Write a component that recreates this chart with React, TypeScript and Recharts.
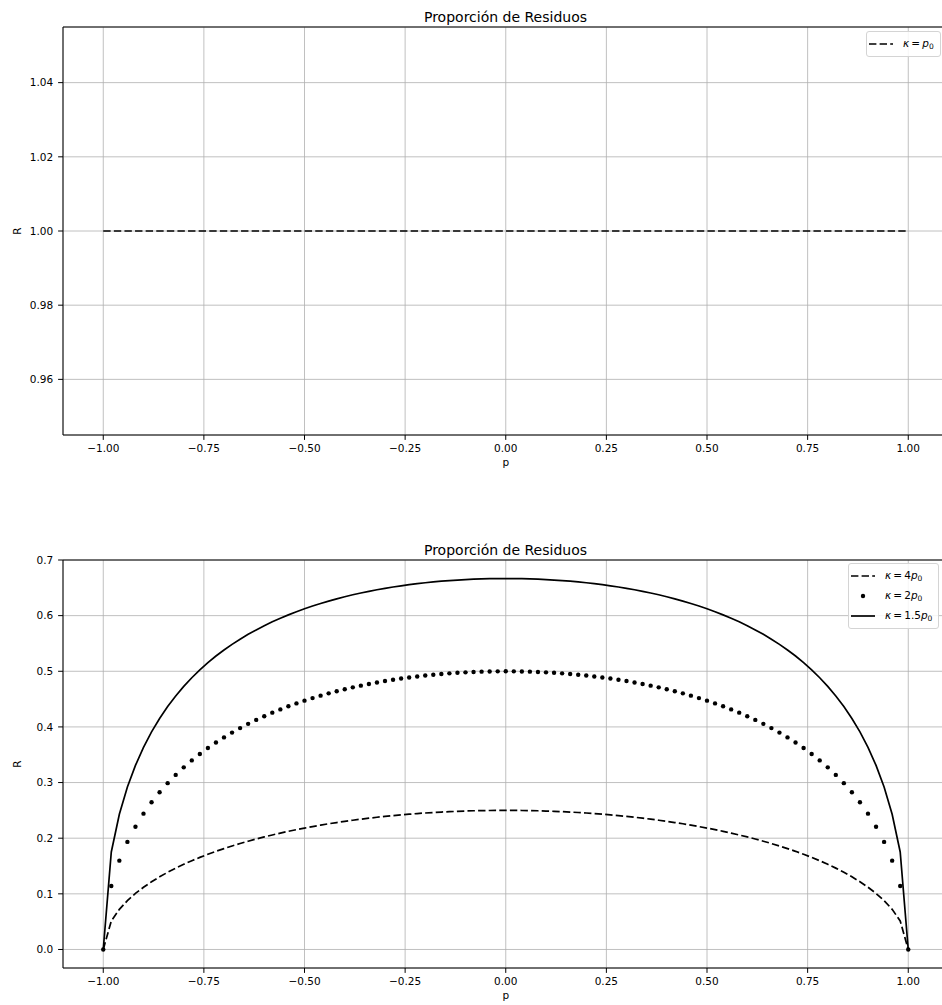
import React from 'react';
import { LineChart, Line, XAxis, YAxis, CartesianGrid, ReferenceLine, Legend } from 'recharts';

const pValues = [
  -1.0, -0.98, -0.96, -0.94, -0.92, -0.9, -0.88, -0.86, -0.84, -0.82, -0.8, -0.78, -0.76, -0.74, -0.72, -0.7,
  -0.68, -0.66, -0.64, -0.62, -0.6, -0.58, -0.56, -0.54, -0.52, -0.5, -0.48, -0.46, -0.44, -0.42, -0.4, -0.38,
  -0.36, -0.34, -0.32, -0.3, -0.28, -0.26, -0.24, -0.22, -0.2, -0.18, -0.16, -0.14, -0.12, -0.1, -0.08, -0.06,
  -0.04, -0.02, 0.0, 0.02, 0.04, 0.06, 0.08, 0.1, 0.12, 0.14, 0.16, 0.18, 0.2, 0.22, 0.24, 0.26, 0.28, 0.3,
  0.32, 0.34, 0.36, 0.38, 0.4, 0.42, 0.44, 0.46, 0.48, 0.5, 0.52, 0.54, 0.56, 0.58, 0.6, 0.62, 0.64, 0.66,
  0.68, 0.7, 0.72, 0.74, 0.76, 0.78, 0.8, 0.82, 0.84, 0.86, 0.88, 0.9, 0.92, 0.94, 0.96, 0.98, 1.0,
];

const kappa4 = [
  0, 0.0513, 0.0721, 0.0878, 0.1007, 0.1118, 0.1217, 0.1306, 0.1387, 0.1462, 0.1531, 0.1595, 0.1655, 0.1711,
  0.1764, 0.1813, 0.186, 0.1904, 0.1946, 0.1986, 0.2023, 0.2058, 0.2092, 0.2124, 0.2154, 0.2182, 0.2209, 0.2235,
  0.2259, 0.2281, 0.2303, 0.2323, 0.2342, 0.236, 0.2376, 0.2392, 0.2406, 0.2419, 0.2431, 0.2443, 0.2453, 0.2462,
  0.247, 0.2477, 0.2483, 0.2488, 0.2493, 0.2496, 0.2498, 0.25, 0.25,
  0.25, 0.2498, 0.2496, 0.2493, 0.2488, 0.2483, 0.2477, 0.247, 0.2462, 0.2453, 0.2443, 0.2431, 0.2419, 0.2406,
  0.2392, 0.2376, 0.236, 0.2342, 0.2323, 0.2303, 0.2281, 0.2259, 0.2235, 0.2209, 0.2182, 0.2154, 0.2124, 0.2092,
  0.2058, 0.2023, 0.1986, 0.1946, 0.1904, 0.186, 0.1813, 0.1764, 0.1711, 0.1655, 0.1595, 0.1531, 0.1462, 0.1387,
  0.1306, 0.1217, 0.1118, 0.1007, 0.0878, 0.0721, 0.0513, 0,
];

const kappa2 = [
  0, 0.1141, 0.1596, 0.1933, 0.2207, 0.2441, 0.2645, 0.2826, 0.2989, 0.3138, 0.3273, 0.3398, 0.3513, 0.362,
  0.3719, 0.3812, 0.3898, 0.3979, 0.4055, 0.4126, 0.4193, 0.4256, 0.4315, 0.4371, 0.4423, 0.4472, 0.4518, 0.4562,
  0.4603, 0.4641, 0.4677, 0.4711, 0.4742, 0.4772, 0.4799, 0.4824, 0.4848, 0.4869, 0.4889, 0.4907, 0.4924, 0.4938,
  0.4952, 0.4963, 0.4973, 0.4981, 0.4988, 0.4993, 0.4997, 0.4999, 0.5,
  0.4999, 0.4997, 0.4993, 0.4988, 0.4981, 0.4973, 0.4963, 0.4952, 0.4938, 0.4924, 0.4907, 0.4889, 0.4869, 0.4848,
  0.4824, 0.4799, 0.4772, 0.4742, 0.4711, 0.4677, 0.4641, 0.4603, 0.4562, 0.4518, 0.4472, 0.4423, 0.4371, 0.4315,
  0.4256, 0.4193, 0.4126, 0.4055, 0.3979, 0.3898, 0.3812, 0.3719, 0.362, 0.3513, 0.3398, 0.3273, 0.3138, 0.2989,
  0.2826, 0.2645, 0.2441, 0.2207, 0.1933, 0.1596, 0.1141, 0,
];

const kappa15 = [
  0, 0.1752, 0.2429, 0.2919, 0.3308, 0.3632, 0.391, 0.4152, 0.4366, 0.4557, 0.4729, 0.4884, 0.5026, 0.5155,
  0.5274, 0.5383, 0.5484, 0.5577, 0.5664, 0.5744, 0.5819, 0.5889, 0.5954, 0.6014, 0.6071, 0.6124, 0.6173, 0.6219,
  0.6262, 0.6302, 0.634, 0.6375, 0.6407, 0.6437, 0.6465, 0.6491, 0.6515, 0.6536, 0.6556, 0.6575, 0.6591, 0.6606,
  0.6619, 0.663, 0.664, 0.6648, 0.6655, 0.666, 0.6664, 0.6666, 0.6667,
  0.6666, 0.6664, 0.666, 0.6655, 0.6648, 0.664, 0.663, 0.6619, 0.6606, 0.6591, 0.6575, 0.6556, 0.6536, 0.6515,
  0.6491, 0.6465, 0.6437, 0.6407, 0.6375, 0.634, 0.6302, 0.6262, 0.6219, 0.6173, 0.6124, 0.6071, 0.6014, 0.5954,
  0.5889, 0.5819, 0.5744, 0.5664, 0.5577, 0.5484, 0.5383, 0.5274, 0.5155, 0.5026, 0.4884, 0.4729, 0.4557, 0.4366,
  0.4152, 0.391, 0.3632, 0.3308, 0.2919, 0.2429, 0.1752, 0,
];

const topP = [-1.0, 1.0];
const kappaP0 = [1.0, 1.0];

const xTicks = [-1.0, -0.75, -0.5, -0.25, 0.0, 0.25, 0.5, 0.75, 1.0];
const yTicksTop = [0.96, 0.98, 1.0, 1.02, 1.04];
const yTicksBottom = [0.0, 0.1, 0.2, 0.3, 0.4, 0.5, 0.6, 0.7];

const titleText = 'Proporción de Residuos';

const topData = topP.map((p, i) => ({ p, r: kappaP0[i] }));
const bottomData = pValues.map((p, i) => ({ p, k4: kappa4[i], k2: kappa2[i], k15: kappa15[i] }));

const FONT = '"DejaVu Sans", Verdana, sans-serif';
const TICK_FONT = 10.5;
const GRID = '#b0b0b0';
const DASH = '7.4 3.2';
const LW = 1.7;

const fmt = (d: number) => (v: number) => {
  const s = Math.abs(v).toFixed(d);
  return v < -1e-9 ? '\u2212' + s : s;
};

const tickStyle = { fontSize: TICK_FONT, fill: '#000', fontFamily: FONT };

const YLabel = (props: any) => {
  const vb = props.viewBox || { x: 0, y: 0, width: 0, height: 0 };
  const cy = vb.y + vb.height / 2;
  const cx = 17;
  return (
    <text
      x={cx}
      y={cy}
      transform={`rotate(-90 ${cx} ${cy})`}
      textAnchor="middle"
      dominantBaseline="central"
      fontSize={TICK_FONT}
      fontFamily={FONT}
      fill="#000"
    >
      R
    </text>
  );
};

type Item = { label: string; kind: 'dash' | 'dot' | 'solid' };

const Kappa = ({ label }: { label: string }) => (
  <span style={{ whiteSpace: 'nowrap' }}>
    <span style={{ fontStyle: 'italic' }}>κ</span>
    <span>{'\u2009=\u2009'}</span>
    <span>{label}</span>
    <span style={{ fontStyle: 'italic' }}>p</span>
    <span style={{ fontSize: '72%', position: 'relative', top: 2 }}>0</span>
  </span>
);

const LegendBox = ({ items }: { items: Item[] }) => (
  <div
    style={{
      border: '1px solid #d4d4d4',
      borderRadius: 3,
      background: 'rgba(255,255,255,0.85)',
      padding: '2px 6px 2px 2px',
      fontFamily: FONT,
      fontSize: TICK_FONT,
      color: '#000',
      boxSizing: 'border-box',
    }}
  >
    {items.map((it, i) => (
      <div key={i} style={{ display: 'flex', alignItems: 'center', height: 20 }}>
        <svg width={24} height={20} style={{ display: 'block' }}>
          {it.kind === 'dot' ? (
            <circle cx={12} cy={10} r={2.2} fill="#000" />
          ) : (
            <line
              x1={0}
              y1={10}
              x2={24}
              y2={10}
              stroke="#000"
              strokeWidth={LW}
              strokeDasharray={it.kind === 'dash' ? DASH : undefined}
            />
          )}
        </svg>
        <div style={{ marginLeft: 10, lineHeight: '20px' }}>
          <Kappa label={it.label} />
        </div>
      </div>
    ))}
  </div>
);

const Title = ({ top }: { top: number }) => (
  <div
    style={{
      position: 'absolute',
      left: 0,
      width: 1011,
      top,
      textAlign: 'center',
      fontFamily: FONT,
      fontSize: 14,
      lineHeight: '16px',
      color: '#000',
    }}
  >
    {titleText}
  </div>
);

const CHART_W = 960;
const CHART_H = 470;
const MARGIN = { top: 27, right: 11.5, bottom: 0, left: 0 };

export default function App() {
  return (
    <div
      style={{
        position: 'absolute',
        left: 0,
        top: 0,
        width: 942,
        height: 1005,
        overflow: 'hidden',
        background: '#fff',
      }}
    >
      <div style={{ position: 'absolute', left: 0, top: 0 }}>
        <LineChart width={CHART_W} height={CHART_H} data={topData} margin={MARGIN}>
          <CartesianGrid stroke={GRID} strokeWidth={0.8} />
          <XAxis
            dataKey="p"
            type="number"
            domain={[-1.1, 1.1]}
            ticks={xTicks}
            tickFormatter={fmt(2)}
            tick={tickStyle}
            tickSize={4.9}
            tickMargin={4.9}
            stroke="#000"
            height={35}
            allowDataOverflow
            label={{ value: 'p', position: 'insideBottom', offset: 4, fontSize: TICK_FONT, fontFamily: FONT, fill: '#000' }}
          />
          <YAxis
            type="number"
            domain={[0.945, 1.055]}
            ticks={yTicksTop}
            tickFormatter={fmt(2)}
            tick={tickStyle}
            tickSize={4.9}
            tickMargin={4.9}
            stroke="#000"
            width={63}
            allowDataOverflow
            label={<YLabel />}
          />
          <ReferenceLine y={1.055} stroke="#000" strokeWidth={1} />
          <Line
            dataKey="r"
            stroke="#000"
            strokeWidth={LW}
            strokeDasharray={DASH}
            dot={false}
            isAnimationActive={false}
          />
          <Legend
            layout="vertical"
            align="center"
            verticalAlign="middle"
            wrapperStyle={{ left: 866, top: 31, width: 'auto' }}
            content={() => <LegendBox items={[{ label: '', kind: 'dash' }]} />}
          />
        </LineChart>
      </div>
      <Title top={9} />

      <div style={{ position: 'absolute', left: 0, top: 533 }}>
        <LineChart width={CHART_W} height={CHART_H} data={bottomData} margin={MARGIN}>
          <CartesianGrid stroke={GRID} strokeWidth={0.8} />
          <XAxis
            dataKey="p"
            type="number"
            domain={[-1.1, 1.1]}
            ticks={xTicks}
            tickFormatter={fmt(2)}
            tick={tickStyle}
            tickSize={4.9}
            tickMargin={4.9}
            stroke="#000"
            height={35}
            allowDataOverflow
            label={{ value: 'p', position: 'insideBottom', offset: 4, fontSize: TICK_FONT, fontFamily: FONT, fill: '#000' }}
          />
          <YAxis
            type="number"
            domain={[-0.0333, 0.7]}
            ticks={yTicksBottom}
            tickFormatter={fmt(1)}
            tick={tickStyle}
            tickSize={4.9}
            tickMargin={4.9}
            stroke="#000"
            width={63}
            allowDataOverflow
            label={<YLabel />}
          />
          <ReferenceLine y={0.7} stroke="#000" strokeWidth={1} />
          <Line
            dataKey="k4"
            stroke="#000"
            strokeWidth={LW}
            strokeDasharray={DASH}
            dot={false}
            isAnimationActive={false}
          />
          <Line
            dataKey="k2"
            stroke="none"
            dot={{ r: 2.2, fill: '#000', stroke: 'none' }}
            isAnimationActive={false}
          />
          <Line dataKey="k15" stroke="#000" strokeWidth={LW} dot={false} isAnimationActive={false} />
          <Legend
            layout="vertical"
            align="center"
            verticalAlign="middle"
            wrapperStyle={{ left: 848, top: 30, width: 'auto' }}
            content={() => (
              <LegendBox
                items={[
                  { label: '4', kind: 'dash' },
                  { label: '2', kind: 'dot' },
                  { label: '1.5', kind: 'solid' },
                ]}
              />
            )}
          />
        </LineChart>
      </div>
      <Title top={542} />
    </div>
  );
}
